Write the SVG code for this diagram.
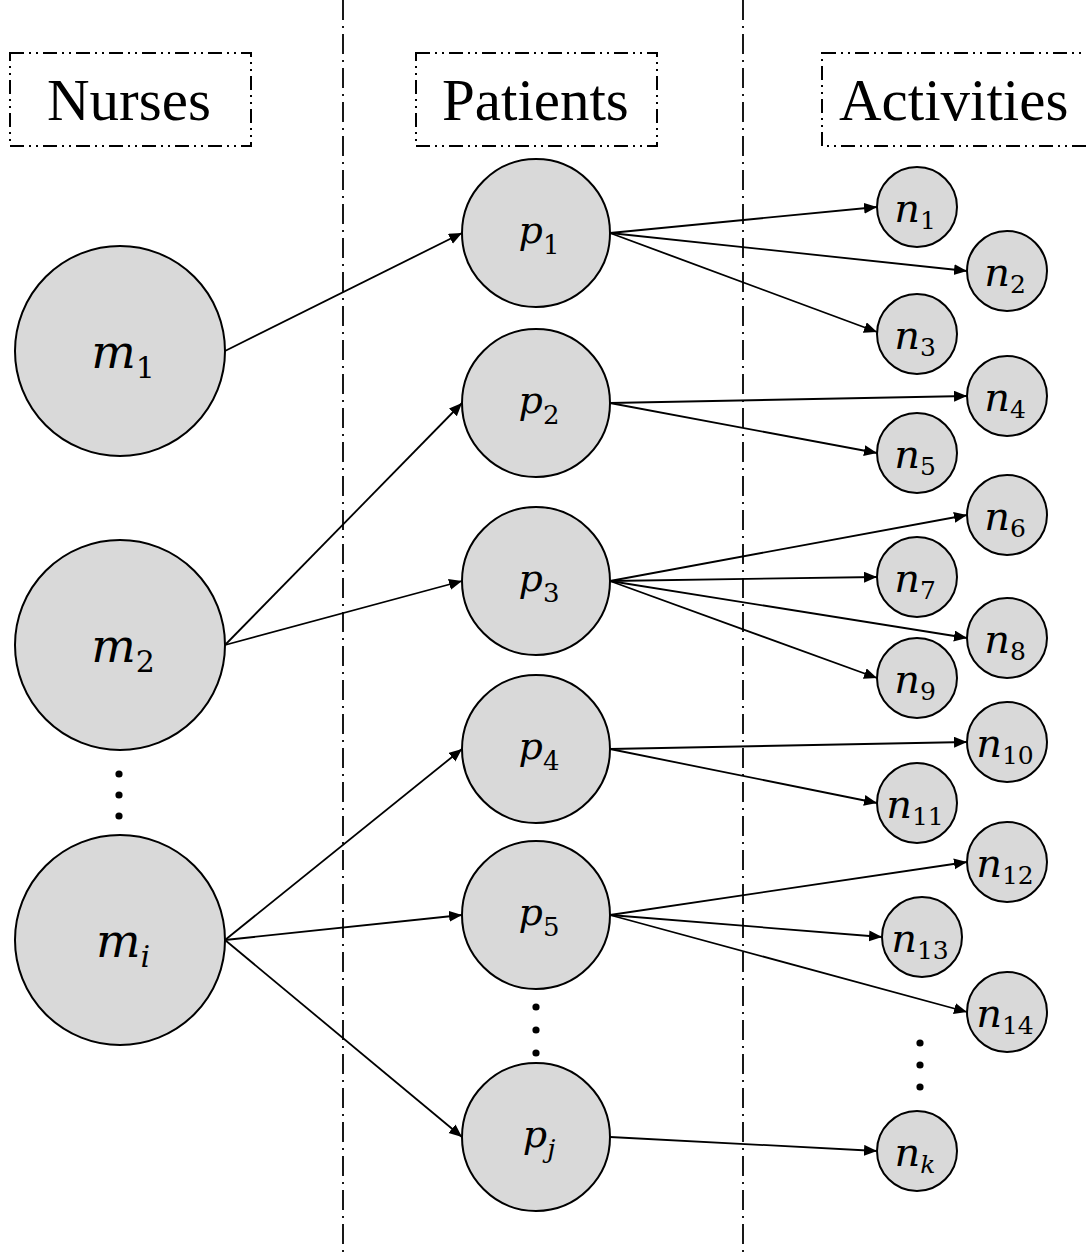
<svg xmlns="http://www.w3.org/2000/svg" width="1086" height="1253" viewBox="0 0 1086 1253">
<style>
.bg{fill:#ffffff}
.sep{stroke:#000;stroke-width:1.8;stroke-dasharray:20 6 2 6;fill:none}
.hdr{fill:none;stroke:#000;stroke-width:2;stroke-dasharray:14 5 2 5 2 5}
.htxt{font-family:"Liberation Serif","Times New Roman",serif;font-size:59px;fill:#000}
.node{fill:#d9d9d9;stroke:#000;stroke-width:2}
.lbl{font-family:"DejaVu Serif","Liberation Serif",serif;fill:#000;text-anchor:middle}
.v{font-style:italic}
.edge{stroke:#000;stroke-width:1.8;fill:none;marker-end:url(#ah)}
.dot{fill:#000}
</style>
<defs>
<marker id="ah" markerUnits="userSpaceOnUse" markerWidth="15" markerHeight="12" refX="13" refY="5.5" orient="auto">
<path d="M0,0 L13,5.5 L0,11 Z" fill="#000"/>
</marker>
</defs>
<rect class="bg" x="0" y="0" width="1086" height="1253"/>
<g id="separators">
<line class="sep" x1="343" y1="0" x2="343" y2="1253"/>
<line class="sep" x1="743" y1="0" x2="743" y2="1253"/>
</g>
<g id="hdr-nurses"><rect class="hdr" x="10" y="53" width="241" height="93"/><text class="htxt" x="47" y="120">Nurses</text></g>
<g id="hdr-patients"><rect class="hdr" x="416" y="53" width="241" height="93"/><text class="htxt" x="442" y="120">Patients</text></g>
<g id="hdr-activities"><rect class="hdr" x="822" y="53" width="300" height="93"/><text class="htxt" x="839" y="120">Activities</text></g>
<g id="connectors">
<line class="edge" x1="225" y1="351" x2="462" y2="233"/>
<line class="edge" x1="225" y1="645" x2="462" y2="403"/>
<line class="edge" x1="225" y1="645" x2="462" y2="581"/>
<line class="edge" x1="225" y1="940" x2="462" y2="749"/>
<line class="edge" x1="225" y1="940" x2="462" y2="915"/>
<line class="edge" x1="225" y1="940" x2="462" y2="1137"/>
<line class="edge" x1="610" y1="233" x2="877" y2="207"/>
<line class="edge" x1="610" y1="233" x2="967" y2="271"/>
<line class="edge" x1="610" y1="233" x2="877" y2="332"/>
<line class="edge" x1="610" y1="403" x2="967" y2="396"/>
<line class="edge" x1="610" y1="403" x2="877" y2="453"/>
<line class="edge" x1="610" y1="581" x2="967" y2="515"/>
<line class="edge" x1="610" y1="581" x2="877" y2="577"/>
<line class="edge" x1="610" y1="581" x2="967" y2="638"/>
<line class="edge" x1="610" y1="581" x2="877" y2="678"/>
<line class="edge" x1="610" y1="749" x2="967" y2="742"/>
<line class="edge" x1="610" y1="749" x2="877" y2="803"/>
<line class="edge" x1="610" y1="915" x2="967" y2="862"/>
<line class="edge" x1="610" y1="915" x2="882" y2="937"/>
<line class="edge" x1="610" y1="915" x2="967" y2="1012"/>
<line class="edge" x1="610" y1="1137" x2="877" y2="1151"/>
</g>
<g id="m1"><circle class="node" cx="120" cy="351" r="105"/><text class="lbl" x="123" y="368" font-size="47"><tspan class="v">m</tspan><tspan font-size="30" dy="10">1</tspan></text></g>
<g id="m2"><circle class="node" cx="120" cy="645" r="105"/><text class="lbl" x="123" y="662" font-size="47"><tspan class="v">m</tspan><tspan font-size="30" dy="10">2</tspan></text></g>
<g id="mi"><circle class="node" cx="120" cy="940" r="105"/><text class="lbl" x="123" y="957" font-size="47"><tspan class="v">m</tspan><tspan font-size="30" dy="10" class="v">i</tspan></text></g>
<g id="m-dots"><circle class="dot" cx="119" cy="774" r="3.6"/><circle class="dot" cx="119" cy="795" r="3.6"/><circle class="dot" cx="119" cy="816" r="3.6"/></g>
<g id="p1"><circle class="node" cx="536" cy="233" r="74"/><text class="lbl" x="539" y="243" font-size="38"><tspan class="v">p</tspan><tspan font-size="26" dy="11">1</tspan></text></g>
<g id="p2"><circle class="node" cx="536" cy="403" r="74"/><text class="lbl" x="539" y="413" font-size="38"><tspan class="v">p</tspan><tspan font-size="26" dy="11">2</tspan></text></g>
<g id="p3"><circle class="node" cx="536" cy="581" r="74"/><text class="lbl" x="539" y="591" font-size="38"><tspan class="v">p</tspan><tspan font-size="26" dy="11">3</tspan></text></g>
<g id="p4"><circle class="node" cx="536" cy="749" r="74"/><text class="lbl" x="539" y="759" font-size="38"><tspan class="v">p</tspan><tspan font-size="26" dy="11">4</tspan></text></g>
<g id="p5"><circle class="node" cx="536" cy="915" r="74"/><text class="lbl" x="539" y="925" font-size="38"><tspan class="v">p</tspan><tspan font-size="26" dy="11">5</tspan></text></g>
<g id="pj"><circle class="node" cx="536" cy="1137" r="74"/><text class="lbl" x="539" y="1147" font-size="38"><tspan class="v">p</tspan><tspan font-size="26" dy="11" class="v">j</tspan></text></g>
<g id="p-dots"><circle class="dot" cx="536" cy="1007" r="3.6"/><circle class="dot" cx="536" cy="1030" r="3.6"/><circle class="dot" cx="536" cy="1053" r="3.6"/></g>
<g id="n1"><circle class="node" cx="917" cy="207" r="40"/><text class="lbl" x="915" y="222" font-size="40"><tspan class="v">n</tspan><tspan font-size="25" dy="7">1</tspan></text></g>
<g id="n2"><circle class="node" cx="1007" cy="271" r="40"/><text class="lbl" x="1005" y="286" font-size="40"><tspan class="v">n</tspan><tspan font-size="25" dy="7">2</tspan></text></g>
<g id="n3"><circle class="node" cx="917" cy="334" r="40"/><text class="lbl" x="915" y="349" font-size="40"><tspan class="v">n</tspan><tspan font-size="25" dy="7">3</tspan></text></g>
<g id="n4"><circle class="node" cx="1007" cy="396" r="40"/><text class="lbl" x="1005" y="411" font-size="40"><tspan class="v">n</tspan><tspan font-size="25" dy="7">4</tspan></text></g>
<g id="n5"><circle class="node" cx="917" cy="453" r="40"/><text class="lbl" x="915" y="468" font-size="40"><tspan class="v">n</tspan><tspan font-size="25" dy="7">5</tspan></text></g>
<g id="n6"><circle class="node" cx="1007" cy="515" r="40"/><text class="lbl" x="1005" y="530" font-size="40"><tspan class="v">n</tspan><tspan font-size="25" dy="7">6</tspan></text></g>
<g id="n7"><circle class="node" cx="917" cy="577" r="40"/><text class="lbl" x="915" y="592" font-size="40"><tspan class="v">n</tspan><tspan font-size="25" dy="7">7</tspan></text></g>
<g id="n8"><circle class="node" cx="1007" cy="638" r="40"/><text class="lbl" x="1005" y="653" font-size="40"><tspan class="v">n</tspan><tspan font-size="25" dy="7">8</tspan></text></g>
<g id="n9"><circle class="node" cx="917" cy="678" r="40"/><text class="lbl" x="915" y="693" font-size="40"><tspan class="v">n</tspan><tspan font-size="25" dy="7">9</tspan></text></g>
<g id="n10"><circle class="node" cx="1007" cy="742" r="40"/><text class="lbl" x="1005" y="757" font-size="40"><tspan class="v">n</tspan><tspan font-size="25" dy="7">10</tspan></text></g>
<g id="n11"><circle class="node" cx="917" cy="803" r="40"/><text class="lbl" x="915" y="818" font-size="40"><tspan class="v">n</tspan><tspan font-size="25" dy="7">11</tspan></text></g>
<g id="n12"><circle class="node" cx="1007" cy="862" r="40"/><text class="lbl" x="1005" y="877" font-size="40"><tspan class="v">n</tspan><tspan font-size="25" dy="7">12</tspan></text></g>
<g id="n13"><circle class="node" cx="922" cy="937" r="40"/><text class="lbl" x="920" y="952" font-size="40"><tspan class="v">n</tspan><tspan font-size="25" dy="7">13</tspan></text></g>
<g id="n14"><circle class="node" cx="1007" cy="1012" r="40"/><text class="lbl" x="1005" y="1027" font-size="40"><tspan class="v">n</tspan><tspan font-size="25" dy="7">14</tspan></text></g>
<g id="nk"><circle class="node" cx="917" cy="1151" r="40"/><text class="lbl" x="915" y="1166" font-size="40"><tspan class="v">n</tspan><tspan font-size="25" dy="7" class="v">k</tspan></text></g>
<g id="n-dots"><circle class="dot" cx="920" cy="1043" r="3.6"/><circle class="dot" cx="920" cy="1065" r="3.6"/><circle class="dot" cx="920" cy="1087" r="3.6"/></g>
</svg>
